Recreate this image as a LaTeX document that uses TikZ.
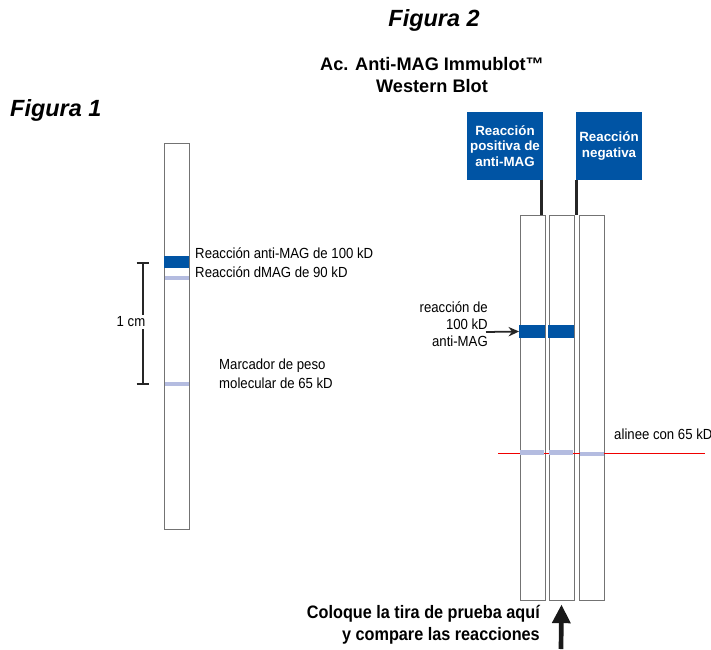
\documentclass[tikz,border=0pt]{standalone}
\usepackage{fontspec}
\setmainfont{Liberation Sans}
\newfontfamily\estrecha[FakeStretch=0.9]{Liberation Sans}
\usetikzlibrary{arrows.meta}
\definecolor{azulmag}{RGB}{0,84,164}
\definecolor{lila}{RGB}{180,188,224}
\definecolor{rojo}{RGB}{240,0,0}
\tikzset{
  tira/.style={draw=black!55, line width=0.7pt, minimum width=0.75cm, inner sep=0pt},
  banda/.style={fill=azulmag, minimum width=0.76cm, minimum height=0.37cm, inner sep=0pt},
  bandaclara/.style={fill=lila, minimum width=0.72cm, minimum height=0.14cm, inner sep=0pt},
  caja/.style={fill=azulmag, text=white, font=\fontsize{11.4}{13.2}\selectfont\bfseries,
    align=center, inner sep=0pt, minimum height=2.04cm},
  etiq/.style={font=\estrecha\fontsize{12.5}{14.5}\selectfont, inner sep=0pt},
  figura/.style={font=\fontsize{20}{24}\selectfont\bfseries\itshape, inner sep=0pt},
  poste/.style={line width=2.2pt, black!85},
  escala/.style={line width=1.6pt, black!85},
}

\begin{document}
\begin{tikzpicture}[x=0.03cm, y=-0.03cm]
  \useasboundingbox (0,0) rectangle (711,649);

  % titulos
  \node[figura, anchor=west] (fig1) at (10,110) {Figura 1};
  \node[figura] (fig2) at (434,20) {Figura 2};
  \node[font=\fontsize{15.5}{18}\selectfont\bfseries, align=center, inner sep=0pt] (titulo) at (432,75)
    {Ac. Anti-MAG Immublot™\\Western Blot};

  % figura 1
  \node[tira, minimum height=11.58cm] (t0) at (176.5,336) {};
  \node[banda] (b0) at (176.5,262) {};
  \node[bandaclara] (c90) at (176.5,278) {};
  \node[bandaclara] (c65) at (176.5,384) {};
  \node[etiq, anchor=west] (l100) at (195,253) {Reacción anti-MAG de 100 kD};
  \node[etiq, anchor=west] (l90) at (195,272) {Reacción dMAG de 90 kD};
  \node[etiq, anchor=west, align=left, font=\estrecha\fontsize{12.5}{16.2}\selectfont] (l65) at (219,373.5)
    {Marcador de peso\\molecular de 65 kD};

  % escala de 1 cm
  \coordinate (esc1) at (142.7,262.7);
  \coordinate (esc2) at (142.7,384);
  \draw[escala] (esc1) -- (esc2);
  \draw[escala] ([xshift=-0.18cm]esc1) -- ([xshift=0.18cm]esc1);
  \draw[escala] ([xshift=-0.18cm]esc2) -- ([xshift=0.18cm]esc2);
  \node[etiq, fill=white, inner sep=1.5pt] (cm) at (131,322) {1 cm};

  % figura 2: tiras
  \node[tira, minimum height=11.55cm] (t1) at (532.5,407.5) {};
  \node[tira, minimum height=11.55cm] (t2) at (561.5,407.5) {};
  \node[tira, minimum height=11.55cm] (t3) at (591.5,407.5) {};

  \node[caja, minimum width=2.28cm] (caja1) at (505,146) {Reacción\\positiva de\\anti-MAG};
  \node[caja, minimum width=1.98cm] (caja2) at (609,146) {Reacción\\negativa};
  \draw[poste] ([xshift=-0.06cm]caja1.south east) -- ([xshift=-0.06cm]caja1.south east |- t1.north);
  \draw[poste] ([xshift=0.03cm]caja2.south west) -- ([xshift=0.03cm]caja2.south west |- t3.north);

  \node[banda] (b1) at (532,331.5) {};
  \node[banda] (b2) at (561,331.5) {};

  % linea de alineacion
  \coordinate (r1) at (498,453);
  \coordinate (r2) at (705,454);
  \fill[rojo] (r1) rectangle (r2);
  \node[bandaclara] (m1) at (532,452.5) {};
  \node[bandaclara] (m2) at (561,452.5) {};
  \node[bandaclara] (m3) at (591.5,454) {};

  \node[etiq, anchor=east, align=right] (r100) at (488,324.5) {reacción de\\100 kD\\anti-MAG};
  \coordinate (fl) at (486,332);
  \draw[line width=1.5pt, -{Stealth[length=9pt, width=8pt]}, black!85] (fl) -- (b1.west);
  \node[etiq, anchor=west] (alinee) at (614,434) {alinee con 65 kD};

  % indicacion inferior
  \node[font=\fontsize{15.4}{18.8}\bfseries\selectfont\addfontfeatures{FakeStretch=0.9}, align=right,
    anchor=east, inner sep=0pt] (coloque) at (540,625) {Coloque la tira de prueba aquí\\y compare las reacciones};
  \coordinate (base) at (561,649);
  \draw[line width=4pt, -{Triangle[length=16pt, width=15pt]}, black!90] (base) -- ([yshift=-0.12cm]t2.south);
\end{tikzpicture}
\end{document}
